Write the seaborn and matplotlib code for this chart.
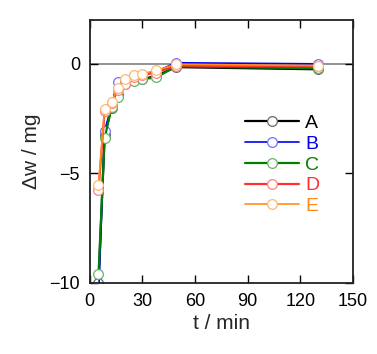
import numpy as np
import pandas as pd
import matplotlib
matplotlib.use("Agg")
import matplotlib.pyplot as plt
import seaborn as sns

t_min = [5, 8.5, 12.5, 16, 20, 25, 30, 38, 49, 130]
A = [-10.0, -3.25, -2.0, -1.4, -0.85, -0.75, -0.7, -0.55, -0.15, -0.25]
B = [-10.7, -3.05, -1.9, -0.85, -0.75, -0.55, -0.5, -0.35, 0.05, 0.0]
C = [-9.6, -3.4, -1.95, -1.5, -0.9, -0.77, -0.7, -0.62, -0.12, -0.2]
D = [-5.75, -2.15, -1.8, -1.2, -0.9, -0.6, -0.5, -0.4, -0.08, -0.12]
E = [-5.55, -2.05, -1.75, -1.1, -0.7, -0.5, -0.45, -0.3, -0.02, -0.08]
series_names = ["A", "B", "C", "D", "E"]
x_ticks = [0, 30, 60, 90, 120, 150]
y_ticks = [0, -5, -10]

sns.set_style("ticks")
plt.rcParams['font.family'] = ['Liberation Sans', 'DejaVu Sans']

colors = {"A": "#000000", "B": "#0000ee", "C": "#008000", "D": "#ff3030", "E": "#ff8c1a"}
mcolors = {"A": "#666666", "B": "#7070ff", "C": "#66b366", "D": "#ff8080", "E": "#ffb870"}
lws = {"A": 1.6, "B": 1.2, "C": 1.6, "D": 1.6, "E": 1.2}

frames = []
for name, vals in zip(series_names, [A, B, C, D, E]):
    frames.append(pd.DataFrame({"t": t_min, "dw": vals, "s": name}))
df = pd.concat(frames, ignore_index=True)

fig = plt.figure(figsize=(3.77, 3.54), dpi=100)
ax = fig.add_axes([0.238, 0.2006, 0.698, 0.7429])

ax.axhline(0, color="#808080", lw=1.2, zorder=0)

for name in series_names:
    sub = df[df["s"] == name]
    sns.lineplot(data=sub, x="t", y="dw", ax=ax, color=colors[name], lw=lws[name],
                 marker="o", markersize=7, markerfacecolor="white",
                 markeredgecolor=mcolors[name], markeredgewidth=0.9,
                 legend=False, label=name)

ax.set_xlim(0, 150)
ax.set_ylim(-10, 2)
ax.set_xticks(x_ticks)
ax.set_yticks(y_ticks)
ax.tick_params(direction="in", length=6, width=1, top=True, right=True,
               labelsize=13, colors="black", pad=7)
for sp in ax.spines.values():
    sp.set_linewidth(1.3)
    sp.set_color("#222222")
ax.set_xlabel("t / min", fontsize=15, labelpad=3)
ax.set_ylabel("Δw / mg", fontsize=15, labelpad=6)

leg = ax.legend(loc="upper left", bbox_to_anchor=(0.59, 0.64), frameon=False,
                fontsize=14, handlelength=2.8, handletextpad=0.3,
                labelspacing=0.16, borderaxespad=0, borderpad=0)
for txt, name in zip(leg.get_texts(), series_names):
    txt.set_color(colors[name])

fig.savefig("out.png", dpi=100)
